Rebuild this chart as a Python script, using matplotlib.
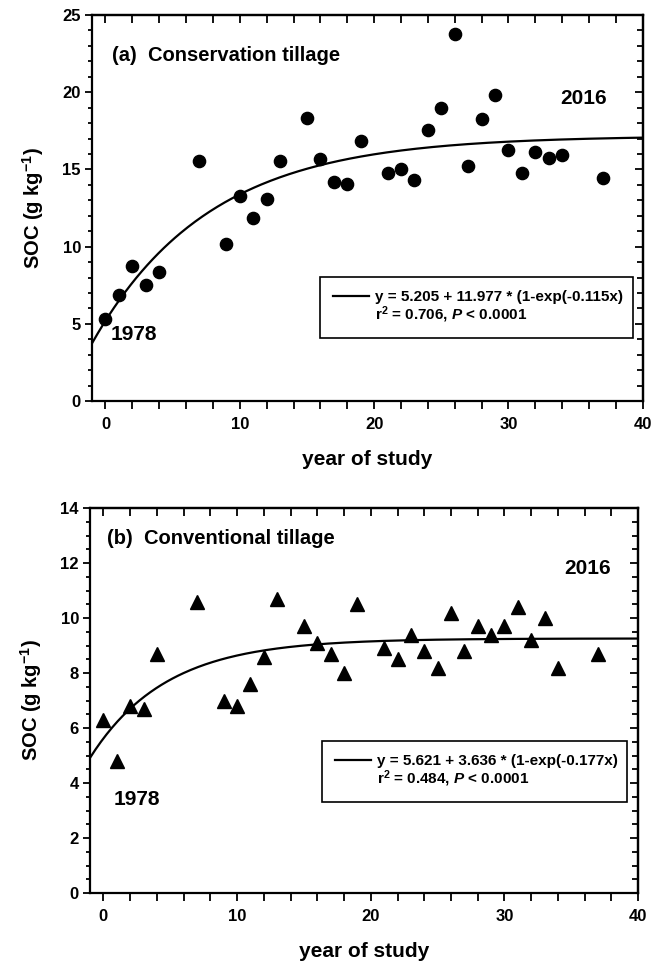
import numpy as np
import matplotlib
matplotlib.use("Agg")
import matplotlib.pyplot as plt
from matplotlib.ticker import MultipleLocator
from matplotlib.lines import Line2D

plt.rcParams['font.family'] = ['Liberation Sans', 'DejaVu Sans']
plt.rcParams['font.weight'] = 'bold'
plt.rcParams['mathtext.fontset'] = 'custom'
plt.rcParams['mathtext.rm'] = 'Liberation Sans:bold'
plt.rcParams['mathtext.it'] = 'Liberation Sans:bold:italic'
plt.rcParams['mathtext.bf'] = 'Liberation Sans:bold'

# year of study
years = [0, 1, 2, 3, 4, 7, 9, 10, 11, 12, 13, 15, 16, 17, 18, 19,
         21, 22, 23, 24, 25, 26, 27, 28, 29, 30, 31, 32, 33, 34, 37]

# (a) conservation tillage SOC, g/kg
soc_ct = [5.3, 6.85, 8.75, 7.55, 8.35, 15.55, 10.15, 13.3, 11.85, 13.1, 15.55,
          18.35, 15.65, 14.2, 14.05, 16.85,
          14.75, 15.05, 14.35, 17.55, 18.95, 23.75, 15.25, 18.25, 19.85, 16.25,
          14.75, 16.15, 15.75, 15.95, 14.45]

# (b) conventional tillage SOC, g/kg
soc_conv = [6.3, 4.8, 6.8, 6.7, 8.7, 10.6, 7.0, 6.8, 7.6, 8.6, 10.7,
            9.7, 9.1, 8.7, 8.0, 10.5,
            8.9, 8.5, 9.4, 8.8, 8.2, 10.2, 8.8, 9.7, 9.4, 9.7,
            10.4, 9.2, 10.0, 8.2, 8.7]

# fit parameters y = a + b*(1-exp(-c x))
fit_ct = (5.205, 11.977, 0.115)
fit_conv = (5.621, 3.636, 0.177)

fig = plt.figure(figsize=(6.62, 9.69), dpi=100)
ax1 = fig.add_axes([0.139, 0.586, 0.832, 0.3985])
ax2 = fig.add_axes([0.136, 0.0784, 0.828, 0.3973])

xx = np.linspace(-1, 40, 300)


def style(ax, ymax, ymaj, ymin):
    ax.set_xlim(-1, 40)
    ax.set_ylim(0, ymax)
    for s in ax.spines.values():
        s.set_linewidth(1.6)
    ax.xaxis.set_major_locator(MultipleLocator(10))
    ax.xaxis.set_minor_locator(MultipleLocator(2))
    ax.yaxis.set_major_locator(MultipleLocator(ymaj))
    ax.yaxis.set_minor_locator(MultipleLocator(ymin))
    ax.tick_params(which='both', direction='out', width=1.3, labelsize=12)
    ax.tick_params(axis='x', which='both', length=5.5, pad=6)
    ax.tick_params(axis='y', which='major', length=5, pad=3)
    ax.tick_params(axis='y', which='minor', length=3)
    # inward ticks on top and right
    top = ax.secondary_xaxis('top')
    top.xaxis.set_major_locator(MultipleLocator(10))
    top.xaxis.set_minor_locator(MultipleLocator(2))
    top.tick_params(which='both', direction='in', labeltop=False, width=1.3, length=5.5)
    right = ax.secondary_yaxis('right')
    right.yaxis.set_major_locator(MultipleLocator(ymaj))
    right.yaxis.set_minor_locator(MultipleLocator(ymin))
    right.tick_params(which='both', direction='in', labelright=False, width=1.3)
    right.tick_params(which='major', length=6)
    right.tick_params(which='minor', length=4)
    for sec in (top, right):
        for s in sec.spines.values():
            s.set_linewidth(1.6)
    ax.set_xlabel('year of study', fontsize=15, fontweight='bold', labelpad=13)
    ax.set_ylabel('SOC (g kg$^{-1}$)', fontsize=14.5, fontweight='bold', labelpad=12)


def legend(ax, a, b, c, r2, bbox):
    line = Line2D([], [], color='black', lw=1.6)
    blank = Line2D([], [], color='none')
    lab1 = 'y = %.3f + %.3f * (1-exp(-%.3fx)' % (a, b, c)
    lab2 = 'r$^2$ = %.3f, $P$ < 0.0001' % r2
    leg = ax.legend([line, blank], [lab1, lab2], loc='upper left',
                    bbox_to_anchor=bbox, mode='expand',
                    handlelength=2.35, handletextpad=0.4, labelspacing=0.0,
                    borderpad=0.85, borderaxespad=0,
                    fancybox=False, framealpha=1, edgecolor='black',
                    prop={'weight': 'bold', 'size': 11})
    leg.get_frame().set_linewidth(1.2)


# (a)
a, b, c = fit_ct
ax1.plot(xx, a + b * (1 - np.exp(-c * xx)), color='black', lw=1.6)
ax1.plot(years, soc_ct, 'o', color='black', ms=8.8)
style(ax1, 25, 5, 1)
ax1.text(0.036, 0.896, '(a)  Conservation tillage', transform=ax1.transAxes,
         fontsize=14.5, fontweight='bold', va='center', ha='left')
ax1.text(2.1, 4.3, '1978', fontsize=15, fontweight='bold', ha='center', va='center')
ax1.text(35.6, 19.6, '2016', fontsize=15, fontweight='bold', ha='center', va='center')
legend(ax1, a, b, c, 0.706, (0.414, 0.321, 0.568, 0.0))

# (b)
a, b, c = fit_conv
ax2.plot(xx, a + b * (1 - np.exp(-c * xx)), color='black', lw=1.6)
ax2.plot(years, soc_conv, '^', color='black', ms=9.5)
style(ax2, 14, 2, 0.5)
ax2.text(0.031, 0.922, '(b)  Conventional tillage', transform=ax2.transAxes,
         fontsize=14.5, fontweight='bold', va='center', ha='left')
ax2.text(2.5, 3.4, '1978', fontsize=15, fontweight='bold', ha='center', va='center')
ax2.text(36.2, 11.8, '2016', fontsize=15, fontweight='bold', ha='center', va='center')
legend(ax2, a, b, c, 0.484, (0.423, 0.395, 0.557, 0.0))

fig.savefig('out.png', dpi=100)
